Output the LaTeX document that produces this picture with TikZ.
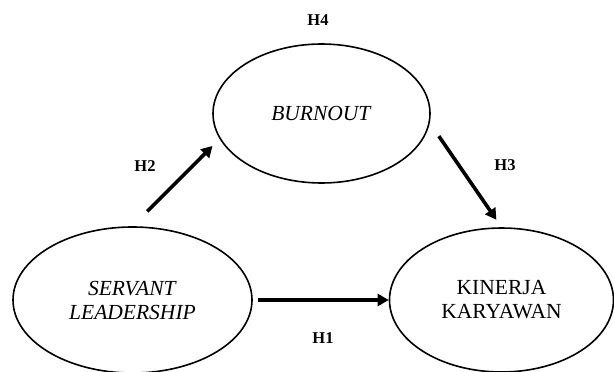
\documentclass[tikz,border=0pt]{standalone}
\usepackage{fontspec}
\setmainfont{Liberation Serif}
\usepackage{tikz}
\usetikzlibrary{shapes,arrows.meta,positioning,calc}

\begin{document}
\begin{tikzpicture}[
    x=1pt, y=-1pt,
    construct/.style={ellipse, draw, line width=1.6pt, inner sep=0pt, align=center, font=\fontsize{21.5}{24}\selectfont},
    hyp/.style={-{Triangle[length=11pt,width=12pt]}, line width=3.6pt},
    hlabel/.style={font=\fontsize{16.5}{18}\selectfont\bfseries}
]
    \useasboundingbox (0,0) rectangle (614,372);
    \node[construct, minimum width=217pt, minimum height=139pt] (burnout) at (321.5,113.5) {\textit{BURNOUT}};
    \node[construct, minimum width=239pt, minimum height=146pt] (servant) at (132.5,300) {\textit{SERVANT}\\\textit{LEADERSHIP}};
    \node[construct, minimum width=224pt, minimum height=144pt] (kinerja) at (501.5,300) {KINERJA\\KARYAWAN};

    \node[hlabel] (h4) at (318,20) {H4};
    \node[hlabel] (h2) at (145,166) {H2};
    \node[hlabel] (h3) at (505,165) {H3};
    \node[hlabel] (h1) at (323,338) {H1};

    \draw[hyp, shorten <=21pt, shorten >=10pt] (servant.north) -- (burnout.194);
    \draw[hyp, shorten <=16pt, shorten >=9pt] (burnout.355) -- (kinerja.north);
    \draw[hyp, shorten <=5pt] (servant.east) -- (kinerja.west);
\end{tikzpicture}
\end{document}
